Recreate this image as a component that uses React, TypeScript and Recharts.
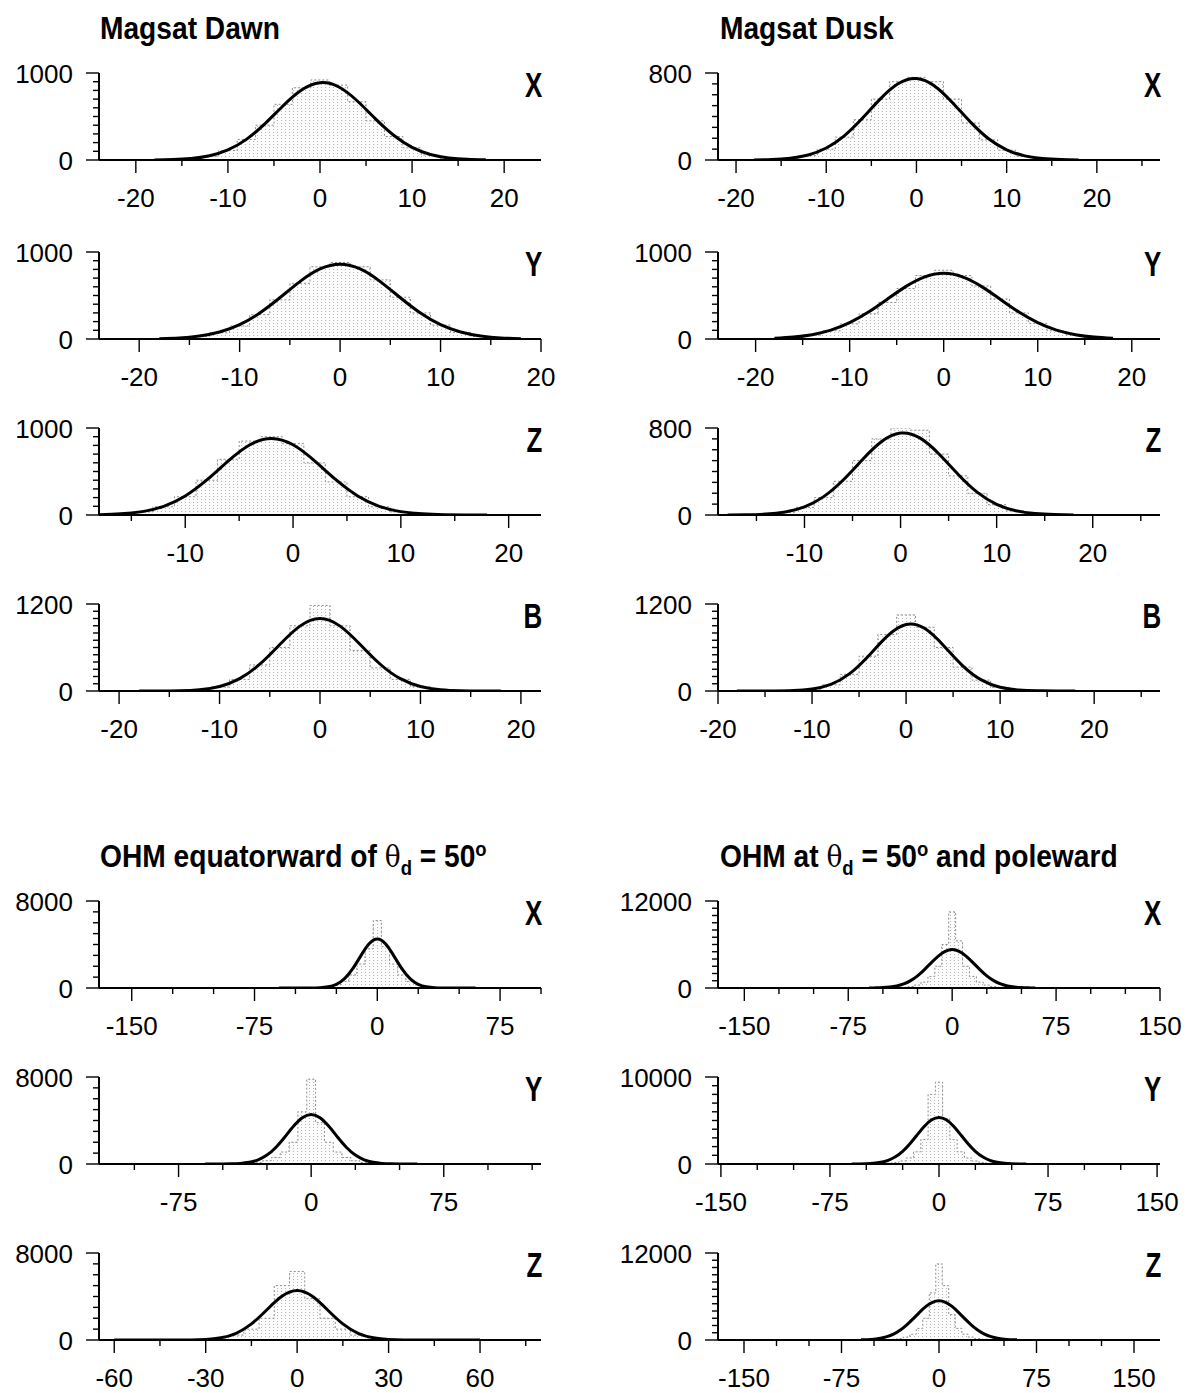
import React from "react";
import { ComposedChart, Area, Line, XAxis, YAxis } from "recharts";

const FONT = '"Liberation Sans", Arial, Helvetica, sans-serif';

// bin centres
const MAG_BINS = [-18, -16, -14, -12, -10, -8, -6, -4, -2, 0, 2, 4, 6, 8, 10, 12, 14, 16, 18];
const OHM_BINS = [-60, -55, -50, -45, -40, -35, -30, -25, -20, -15, -10, -5, 0, 5, 10, 15, 20, 25, 30, 35, 40, 45, 50, 55, 60];

// Magsat dawn
const DAWN_X_HIST = [1, 4, 14, 42, 108, 236, 400, 640, 830, 920, 860, 670, 450, 270, 140, 58, 20, 6, 1];
const DAWN_X_FIT = [1, 5, 17, 49, 116, 237, 415, 624, 804, 888, 842, 684, 476, 285, 146, 64, 24, 8, 2];
const DAWN_Y_HIST = [3, 10, 30, 72, 150, 280, 450, 640, 830, 880, 830, 680, 480, 300, 160, 75, 30, 10, 3];
const DAWN_Y_FIT = [4, 12, 34, 80, 165, 299, 474, 660, 805, 860, 805, 660, 474, 299, 165, 80, 34, 12, 4];
const DAWN_Z_HIST = [2, 10, 35, 95, 210, 400, 640, 850, 900, 820, 600, 380, 210, 95, 35, 12, 4, 1, 0];
const DAWN_Z_FIT = [3, 13, 39, 100, 219, 403, 622, 807, 880, 807, 622, 403, 219, 100, 39, 13, 4, 1, 0];
const DAWN_B_HIST = [0, 1, 3, 15, 55, 160, 360, 600, 900, 1180, 900, 560, 320, 160, 60, 18, 4, 1, 0];
const DAWN_B_FIT = [0, 1, 4, 18, 63, 170, 369, 642, 895, 1000, 895, 642, 369, 170, 63, 18, 4, 1, 0];

// Magsat dusk
const DUSK_X_HIST = [1, 4, 14, 40, 100, 210, 370, 560, 720, 760, 720, 560, 340, 185, 90, 35, 12, 4, 1];
const DUSK_X_FIT = [1, 5, 17, 46, 110, 222, 383, 562, 703, 750, 681, 527, 348, 195, 94, 38, 13, 4, 1];
const DUSK_Y_HIST = [6, 18, 45, 95, 175, 290, 420, 580, 730, 790, 730, 610, 460, 300, 180, 95, 45, 18, 6];
const DUSK_Y_FIT = [8, 22, 50, 102, 188, 310, 458, 605, 714, 755, 714, 605, 458, 310, 188, 102, 50, 22, 8];
const DUSK_Z_HIST = [0, 2, 8, 25, 70, 160, 310, 500, 700, 800, 780, 560, 360, 200, 95, 38, 12, 4, 1];
const DUSK_Z_FIT = [1, 2, 9, 28, 75, 169, 319, 506, 673, 753, 709, 561, 373, 208, 98, 39, 13, 4, 1];
const DUSK_B_HIST = [0, 0, 1, 5, 25, 85, 230, 480, 780, 1050, 880, 600, 330, 150, 50, 12, 3, 0, 0];
const DUSK_B_FIT = [0, 0, 1, 6, 27, 91, 239, 483, 757, 918, 861, 625, 351, 153, 51, 13, 3, 0, 0];

// OHM equatorward of 50 deg
const EQ_X_HIST = [0, 0, 0, 3, 10, 40, 110, 280, 600, 1200, 2200, 3600, 6200, 3800, 2200, 1200, 600, 280, 110, 40, 10, 3, 0, 0, 0];
const EQ_X_FIT = [0, 0, 0, 1, 6, 28, 110, 340, 862, 1779, 2980, 4058, 4500, 4058, 2980, 1779, 862, 340, 110, 28, 6, 1, 0, 0, 0];
const EQ_Y_HIST = [0, 0, 2, 5, 20, 50, 130, 300, 600, 1100, 2000, 4800, 7800, 3800, 2000, 1100, 600, 300, 130, 50, 20, 5, 2, 0, 0];
const EQ_Y_FIT = [0, 1, 5, 18, 57, 158, 386, 821, 1523, 2460, 3466, 4258, 4560, 4258, 3466, 2460, 1523, 821, 386, 158, 57, 18, 5, 1, 0];
const EQ_Z_HIST = [0, 0, 0, 0, 5, 20, 60, 180, 450, 1000, 2000, 5000, 6300, 3800, 2000, 1000, 450, 180, 60, 20, 5, 0, 0, 0, 0];
const EQ_Z_FIT = [0, 0, 0, 0, 2, 10, 50, 200, 616, 1477, 2760, 4015, 4550, 4015, 2760, 1477, 616, 200, 50, 10, 2, 0, 0, 0, 0];

// OHM at 50 deg and poleward
const POLE_X_HIST = [2, 5, 8, 20, 50, 100, 200, 400, 800, 1600, 3000, 6000, 10500, 6500, 3000, 1600, 800, 400, 200, 100, 50, 20, 8, 5, 2];
const POLE_X_FIT = [7, 20, 54, 129, 280, 558, 1015, 1681, 2543, 3507, 4410, 5062, 5300, 5062, 4410, 3507, 2543, 1681, 1015, 558, 280, 129, 54, 20, 7];
const POLE_Y_HIST = [1, 2, 4, 12, 35, 80, 170, 350, 700, 1400, 2800, 8000, 9400, 5200, 2800, 1400, 700, 350, 170, 80, 35, 12, 4, 2, 1];
const POLE_Y_FIT = [3, 10, 29, 79, 192, 417, 824, 1455, 2327, 3349, 4344, 5077, 5350, 5077, 4344, 3349, 2327, 1455, 824, 417, 192, 79, 29, 10, 3];
const POLE_Z_HIST = [1, 3, 8, 20, 50, 100, 200, 400, 800, 1600, 3000, 6500, 10500, 7500, 3500, 1600, 800, 400, 200, 100, 50, 20, 8, 3, 1];
const POLE_Z_FIT = [21, 51, 114, 237, 457, 815, 1347, 2057, 2912, 3817, 4628, 5196, 5400, 5196, 4628, 3817, 2912, 2057, 1347, 815, 457, 237, 114, 51, 21];

// tick labels
const MAG_MAJOR = [-20, -10, 0, 10, 20];
const MAG_MINOR = [-25, -15, -5, 5, 15, 25];
const OHM_MAJOR = [-150, -75, 0, 75, 150];
const OHM_MINOR = [-175, -125, -100, -50, -25, 25, 50, 100, 125, 175];
const OHMZ_MAJOR = [-60, -30, 0, 30, 60];
const OHMZ_MINOR = [-75, -45, -15, 15, 45, 75];

const COL_LEFT = [99, 718];
const COL_YW = [94, 112];
const ROW_BASE = [160, 339, 515, 691, 988, 1164, 1340];
const PLOT_W = 442;
const PLOT_H = 87;
const MT = 22;
const MR = 36;
const XH = 62;
const TICK_FS = 26;

const PANELS = [
  { id: "dx", col: 0, row: 0, letter: "X", domain: [-24, 24], yMax: 1000, yStep: 100, bins: MAG_BINS, hist: DAWN_X_HIST, fit: DAWN_X_FIT, major: MAG_MAJOR, minor: MAG_MINOR },
  { id: "dy", col: 0, row: 1, letter: "Y", domain: [-24, 20], yMax: 1000, yStep: 100, bins: MAG_BINS, hist: DAWN_Y_HIST, fit: DAWN_Y_FIT, major: MAG_MAJOR, minor: MAG_MINOR },
  { id: "dz", col: 0, row: 2, letter: "Z", domain: [-18, 23], yMax: 1000, yStep: 100, bins: MAG_BINS, hist: DAWN_Z_HIST, fit: DAWN_Z_FIT, major: MAG_MAJOR, minor: MAG_MINOR },
  { id: "db", col: 0, row: 3, letter: "B", domain: [-22, 22], yMax: 1200, yStep: 100, bins: MAG_BINS, hist: DAWN_B_HIST, fit: DAWN_B_FIT, major: MAG_MAJOR, minor: MAG_MINOR },
  { id: "kx", col: 1, row: 0, letter: "X", domain: [-22, 27], yMax: 800, yStep: 100, bins: MAG_BINS, hist: DUSK_X_HIST, fit: DUSK_X_FIT, major: MAG_MAJOR, minor: MAG_MINOR },
  { id: "ky", col: 1, row: 1, letter: "Y", domain: [-24, 23], yMax: 1000, yStep: 100, bins: MAG_BINS, hist: DUSK_Y_HIST, fit: DUSK_Y_FIT, major: MAG_MAJOR, minor: MAG_MINOR },
  { id: "kz", col: 1, row: 2, letter: "Z", domain: [-19, 27], yMax: 800, yStep: 100, bins: MAG_BINS, hist: DUSK_Z_HIST, fit: DUSK_Z_FIT, major: MAG_MAJOR, minor: MAG_MINOR },
  { id: "kb", col: 1, row: 3, letter: "B", domain: [-20, 27], yMax: 1200, yStep: 100, bins: MAG_BINS, hist: DUSK_B_HIST, fit: DUSK_B_FIT, major: MAG_MAJOR, minor: MAG_MINOR },
  { id: "ex", col: 0, row: 4, letter: "X", domain: [-170, 100], yMax: 8000, yStep: 1000, bins: OHM_BINS, hist: EQ_X_HIST, fit: EQ_X_FIT, major: OHM_MAJOR, minor: OHM_MINOR },
  { id: "ey", col: 0, row: 5, letter: "Y", domain: [-120, 130], yMax: 8000, yStep: 1000, bins: OHM_BINS, hist: EQ_Y_HIST, fit: EQ_Y_FIT, major: OHM_MAJOR, minor: OHM_MINOR },
  { id: "ez", col: 0, row: 6, letter: "Z", domain: [-65, 80], yMax: 8000, yStep: 1000, bins: OHM_BINS, hist: EQ_Z_HIST, fit: EQ_Z_FIT, major: OHMZ_MAJOR, minor: OHMZ_MINOR },
  { id: "px", col: 1, row: 4, letter: "X", domain: [-169, 150], yMax: 12000, yStep: 1000, bins: OHM_BINS, hist: POLE_X_HIST, fit: POLE_X_FIT, major: OHM_MAJOR, minor: OHM_MINOR },
  { id: "py", col: 1, row: 5, letter: "Y", domain: [-152, 152], yMax: 10000, yStep: 1000, bins: OHM_BINS, hist: POLE_Y_HIST, fit: POLE_Y_FIT, major: OHM_MAJOR, minor: OHM_MINOR },
  { id: "pz", col: 1, row: 6, letter: "Z", domain: [-170, 170], yMax: 12000, yStep: 1000, bins: OHM_BINS, hist: POLE_Z_HIST, fit: POLE_Z_FIT, major: OHM_MAJOR, minor: OHM_MINOR },
];

function Panel({ p }: { p: any }) {
  const left = COL_LEFT[p.col];
  const yw = COL_YW[p.col];
  const base = ROW_BASE[p.row];
  const top = base - PLOT_H;
  const data = p.bins.map((x: number, i: number) => ({ x, hist: p.hist[i], fit: p.fit[i] }));
  const xTicks = [...p.major, ...p.minor]
    .filter((t: number) => t >= p.domain[0] && t <= p.domain[1])
    .sort((a: number, b: number) => a - b);
  const yTicks: number[] = [];
  for (let v = 0; v <= p.yMax; v += p.yStep) yTicks.push(v);

  const xTick = (props: any) => {
    const { x, y, payload } = props;
    const major = p.major.includes(payload.value);
    return (
      <g>
        <line x1={x} x2={x} y1={y} y2={y + (major ? 13 : 6)} stroke="#000" strokeWidth={1.4} />
        {major && (
          <text x={x} y={y + 47} textAnchor="middle" fontSize={TICK_FS} fontFamily={FONT} fill="#000">
            {payload.value}
          </text>
        )}
      </g>
    );
  };

  const yTick = (props: any) => {
    const { x, y, payload } = props;
    const v = payload.value;
    const major = v === 0 || v === p.yMax;
    return (
      <g>
        <line x1={x - (major ? 13 : 6)} x2={x} y1={y} y2={y} stroke="#000" strokeWidth={1.4} />
        {major && (
          <text x={x - 26} y={y + 9.5} textAnchor="end" fontSize={TICK_FS} fontFamily={FONT} fill="#000">
            {v}
          </text>
        )}
      </g>
    );
  };

  return (
    <div style={{ position: "absolute", left: left - yw, top: top - MT }}>
      <ComposedChart
        width={yw + PLOT_W + MR}
        height={MT + PLOT_H + XH}
        data={data}
        margin={{ top: MT, right: MR, bottom: 0, left: 0 }}
      >
        <defs>
          <pattern id={"dots-" + p.id} width="4" height="3" patternUnits="userSpaceOnUse">
            <rect width="4" height="3" fill="#fcfcfc" />
            <rect width="1" height="1" fill="#b4b4b4" />
          </pattern>
        </defs>
        <XAxis
          type="number"
          dataKey="x"
          domain={p.domain}
          allowDataOverflow
          ticks={xTicks}
          interval={0}
          tickSize={0}
          tickMargin={0}
          tickLine={false}
          tick={xTick}
          height={XH}
          axisLine={{ stroke: "#000", strokeWidth: 2 }}
        />
        <YAxis
          type="number"
          domain={[0, p.yMax]}
          allowDataOverflow
          ticks={yTicks}
          interval={0}
          tickSize={0}
          tickMargin={0}
          tickLine={false}
          tick={yTick}
          width={yw}
          axisLine={{ stroke: "#000", strokeWidth: 2 }}
        />
        <Area
          type="step"
          dataKey="hist"
          stroke="#8c8c8c"
          strokeWidth={1}
          strokeDasharray="2 2"
          fill={"url(#dots-" + p.id + ")"}
          fillOpacity={1}
          isAnimationActive={false}
          dot={false}
          activeDot={false}
        />
        <Line
          type="natural"
          dataKey="fit"
          stroke="#000"
          strokeWidth={3}
          dot={false}
          activeDot={false}
          isAnimationActive={false}
        />
      </ComposedChart>
      <div
        style={{
          position: "absolute",
          right: MR - 1,
          top: MT - 6,
          fontFamily: FONT,
          fontWeight: 700,
          fontSize: 35,
          lineHeight: "35px",
          transform: "scaleX(0.74)",
          transformOrigin: "right center",
        }}
      >
        {p.letter}
      </div>
    </div>
  );
}

const titleBase: React.CSSProperties = {
  position: "absolute",
  fontFamily: FONT,
  fontWeight: 700,
  fontSize: 32,
  lineHeight: "32px",
  whiteSpace: "nowrap",
  transform: "scaleX(0.88)",
  transformOrigin: "left center",
  color: "#000",
};

const sub: React.CSSProperties = { fontSize: 21, position: "relative", top: 8 };
const sup: React.CSSProperties = { fontSize: 21, position: "relative", top: -11 };
const theta: React.CSSProperties = { fontWeight: 400, fontFamily: '"DejaVu Serif", serif', fontSize: 30 };

export default function App() {
  return (
    <div style={{ position: "absolute", left: 0, top: 0, width: 1194, height: 1393, background: "#fff", overflow: "hidden" }}>
      <div style={{ ...titleBase, left: 100, top: 12 }}>Magsat Dawn</div>
      <div style={{ ...titleBase, left: 720, top: 12 }}>Magsat Dusk</div>
      <div style={{ ...titleBase, left: 100, top: 840 }}>
        OHM equatorward of <span style={theta}>θ</span>
        <span style={sub}>d</span> = 50<span style={sup}>o</span>
      </div>
      <div style={{ ...titleBase, left: 720, top: 840 }}>
        OHM at <span style={theta}>θ</span>
        <span style={sub}>d</span> = 50<span style={sup}>o</span> and poleward
      </div>
      {PANELS.map((p) => (
        <Panel key={p.id} p={p} />
      ))}
    </div>
  );
}
